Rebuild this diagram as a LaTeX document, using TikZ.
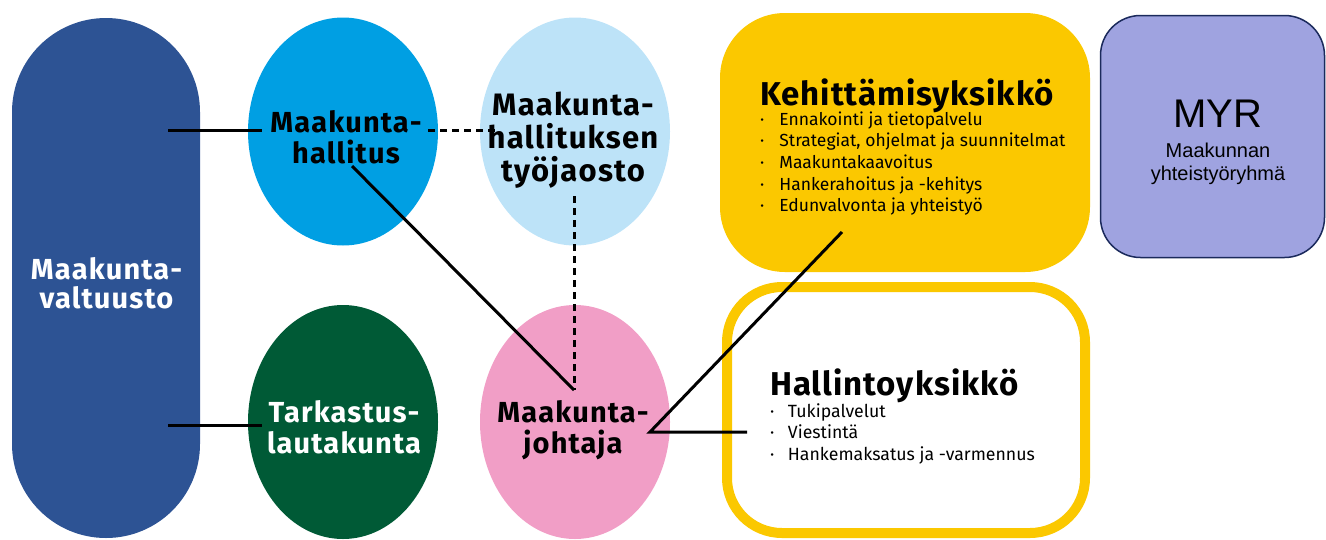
\documentclass[tikz,border=0pt]{standalone}
\usepackage{fontspec}
\setmainfont{Fira Sans}
\newfontfamily\headfont{Fira Sans}[LetterSpace=4]
\newfontfamily\keyfont{Fira Sans}[LetterSpace=3]
\newfontfamily\listfont{Fira Sans}
\newfontfamily\arialfont{Liberation Sans}
\usetikzlibrary{shapes.geometric}
\definecolor{valtc}{HTML}{2D5394}
\definecolor{hallc}{HTML}{009FE3}
\definecolor{tyoc}{HTML}{BDE3F8}
\definecolor{tarkc}{HTML}{005A36}
\definecolor{johtc}{HTML}{F19EC6}
\definecolor{yel}{HTML}{FBC800}
\definecolor{myrc}{HTML}{9FA3E0}
\definecolor{myrb}{HTML}{1B2A5C}
\newcommand\fsz[2]{\fontsize{#1}{#2}\selectfont}
\newcommand\stk[1]{\begin{tabular}[t]{@{}c@{}}#1\end{tabular}}
\newcommand\lst[2]{\begin{tabular}[t]{@{}l@{\hspace{#1}}l@{}}#2\end{tabular}}
\begin{document}
\begin{tikzpicture}[x=1pt,y=-1pt,
  shapebox/.style={inner sep=0, outer sep=0},
  oval/.style={ellipse, shapebox, minimum width=190pt, minimum height=228pt},
  title/.style={inner sep=0, anchor=base, font=\headfont\bfseries},
  heading/.style={inner sep=0, anchor=base west, font=\keyfont\bfseries},
  items/.style={inner sep=0, anchor=base west, font=\listfont},
  conn/.style={line width=3pt},
  dconn/.style={conn, dash pattern=on 7pt off 5pt}]
\useasboundingbox (0,0) rectangle (1326,539);
% shapes
\node[shapebox, rounded corners=94pt, minimum width=188pt, minimum height=520pt, fill=valtc] (valt) at (106,278) {};
\node[oval, fill=hallc] (hall) at (343,131.5) {};
\node[oval, fill=tyoc] (tyo) at (575,131.5) {};
\node[oval, fill=tarkc, minimum height=234pt] (tark) at (343,422) {};
\node[oval, fill=johtc, minimum height=234pt] (joht) at (575,422) {};
\node[shapebox, rounded corners=65pt, minimum width=370pt, minimum height=259pt, fill=yel] (keh) at (905,142.5) {};
\node[shapebox, draw=yel, line width=10pt, rounded corners=55pt, minimum width=358pt, minimum height=246pt, fill=white] (hal) at (906,410) {};
\node[shapebox, rounded corners=40pt, draw=myrb, line width=1.5pt, fill=myrc, minimum width=224pt, minimum height=242pt] (myr) at (1212.5,136.5) {};
% texts
\node[title, text=white] (valtt) at (106.5,279) {\fsz{29}{26}\stk{Maakunta-\\valtuusto}};
\node[title] (hallt) at (346,132) {\fsz{29}{26}\stk{Maakunta-\\hallitus}};
\node[title] (tyot) at (573,115) {\fsz{31}{27}\stk{Maakunta-\\hallituksen\\työjaosto}};
\node[title, text=white] (tarkt) at (344,422) {\fsz{29}{31}\stk{Tarkastus-\\lautakunta}};
\node[title] (johtt) at (573,422) {\fsz{29}{26}\stk{Maakunta-\\johtaja}};
\node[heading] (keht) at (760,105) {\fsz{33}{33}Kehittämisyksikkö};
\node[items] (kehl) at (760,125) {\fsz{17.5}{21.7}\lst{15pt}{·&Ennakointi ja tietopalvelu\\
  ·&Strategiat, ohjelmat ja suunnitelmat\\
  ·&Maakuntakaavoitus\\
  ·&Hankerahoitus ja -kehitys\\
  ·&Edunvalvonta ja yhteistyö}};
\node[heading] (halt) at (770,395) {\fsz{33}{33}Hallintoyksikkö};
\node[items] (hall2) at (770,417) {\fsz{17.7}{21.5}\lst{13.5pt}{·&Tukipalvelut\\
  ·&Viestintä\\
  ·&Hankemaksatus ja -varmennus}};
\node[inner sep=0, anchor=base, font=\arialfont\fsz{40}{40}] (myrt) at (1217.5,127) {MYR};
\node[inner sep=0, anchor=base, font=\arialfont\fsz{20}{23}] (myrs) at (1218,157) {\stk{Maakunnan\\yhteistyöryhmä}};
% connectors
\coordinate (v1) at (168,130); \coordinate (h1) at (262,130);
\coordinate (h2) at (428,130); \coordinate (t1) at (497,130);
\coordinate (v2) at (168,425); \coordinate (k1) at (262,425);
\coordinate (h3) at (352,166); \coordinate (j1) at (574,390);
\coordinate (t2) at (574,196);
\coordinate (j2) at (650,432); \coordinate (ke1) at (842,232); \coordinate (ha1) at (747,432);
\draw[conn] (v1) -- (h1);
\draw[dconn] (h2) -- (t1);
\draw[conn] (v2) -- (k1);
\draw[conn] (h3) -- (j1);
\draw[dconn] (t2) -- (j1);
\draw[conn] (ke1) -- (j2) -- (ha1);
\end{tikzpicture}
\end{document}
